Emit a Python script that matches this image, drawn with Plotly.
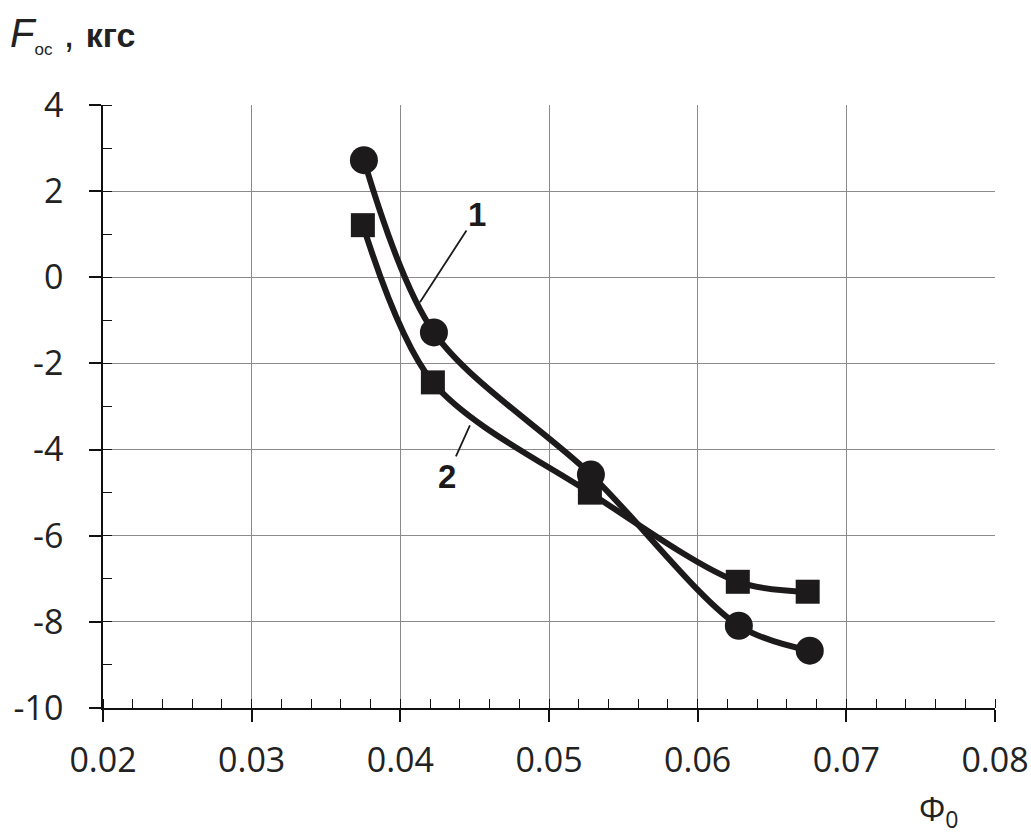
import plotly.graph_objects as go

# Data
phi_1 = [0.03755, 0.04226, 0.05282, 0.06277, 0.06754]
f_1 = [2.72, -1.28, -4.58, -8.09, -8.67]
phi_2 = [0.03748, 0.04219, 0.05275, 0.0627, 0.0674]
f_2 = [1.21, -2.44, -5.0, -7.07, -7.3]

x_ticks = [0.02, 0.03, 0.04, 0.05, 0.06, 0.07, 0.08]
y_ticks = [4, 2, 0, -2, -4, -6, -8, -10]

ink = "#1c1a1b"
fig = go.Figure()
fig.add_trace(go.Scatter(x=phi_1, y=f_1, mode="lines+markers",
                         line=dict(color=ink, width=6, shape="spline", smoothing=0.9),
                         marker=dict(symbol="circle", size=28, color=ink),
                         showlegend=False))
fig.add_trace(go.Scatter(x=phi_2, y=f_2, mode="lines+markers",
                         line=dict(color=ink, width=6, shape="spline", smoothing=0.9),
                         marker=dict(symbol="square", size=24, color=ink),
                         showlegend=False))

font_ticks = dict(family="Open Sans, sans-serif", size=34, color="#222")
fig.update_layout(
    width=1031, height=836,
    margin=dict(l=103, r=36, t=105, b=128, autoexpand=False),
    paper_bgcolor="white", plot_bgcolor="white",
    xaxis=dict(range=[0.02, 0.08], tickvals=x_ticks, ticktext=[f"{v:.2f}" for v in x_ticks],
               showgrid=True, gridcolor="#8a8a8a", gridwidth=1,
               showline=True, linecolor="#111", linewidth=1.5,
               ticks="outside", ticklen=12, tickcolor="#111", tickwidth=1.5,
               ticklabelstandoff=9, automargin=False,
               minor=dict(dtick=0.002, tick0=0.02, ticks="inside", ticklen=9,
                          tickcolor="#111", tickwidth=1.2, showgrid=False),
               tickfont=font_ticks, zeroline=False),
    yaxis=dict(range=[-10, 4], tickvals=y_ticks, ticktext=[str(v) for v in y_ticks],
               showgrid=True, gridcolor="#8a8a8a", gridwidth=1,
               showline=True, linecolor="#111", linewidth=1.5,
               ticks="outside", ticklen=12, tickcolor="#111", tickwidth=1.5,
               ticklabelstandoff=19, automargin=False,
               minor=dict(dtick=1, tick0=0, ticks="inside", ticklen=9,
                          tickcolor="#111", tickwidth=1.2, showgrid=False),
               tickfont=font_ticks, zeroline=False),
    annotations=[
        dict(text="<i>F</i><sub><span style='font-size:17px'>ос</span></sub> , <b><span style='font-size:34px'>кгс</span></b>",
             xref="paper", yref="paper",
             x=-0.106, y=1.116, xanchor="left", yanchor="middle", showarrow=False,
             font=dict(family="Liberation Sans, Arial", size=40, color="#222")),
        dict(text="Φ<sub>0</sub>", xref="paper", yref="paper",
             x=0.937, y=-0.17, xanchor="center", yanchor="middle", showarrow=False,
             font=dict(family="Open Sans, sans-serif", size=33, color="#222")),
        dict(text="<b>1</b>", x=0.04132, y=-0.58, ax=57, ay=-88,
             showarrow=True, arrowhead=0, arrowwidth=1.8, arrowcolor=ink,
             font=dict(family="Liberation Sans, Arial", size=33, color=ink)),
        dict(text="<b>2</b>", x=0.04468, y=-3.44, ax=-23, ay=51,
             showarrow=True, arrowhead=0, arrowwidth=1.8, arrowcolor=ink,
             font=dict(family="Liberation Sans, Arial", size=33, color=ink)),
    ],
)
fig.write_html("out.html", config={"displayModeBar": False},
               post_script="document.body.style.margin='0';document.body.style.overflow='hidden';")
